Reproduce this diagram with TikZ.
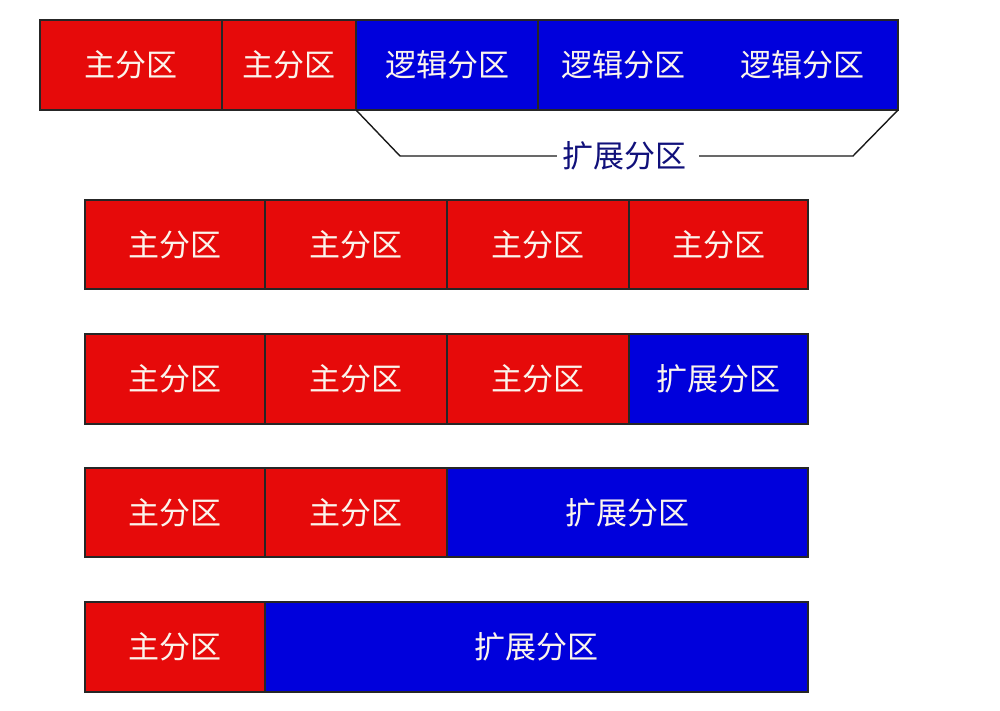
\documentclass[tikz,border=0pt]{standalone}
\usepackage{fontspec}
\newfontfamily\cjk{Noto Sans CJK SC}
\definecolor{pred}{HTML}{E60A0A}
\definecolor{pblue}{HTML}{0000DC}
\definecolor{ptext}{HTML}{FBF4EC}
\definecolor{pnavy}{HTML}{10107A}
\begin{document}
\begin{tikzpicture}[x=1pt,y=-1pt,
  part/.style={draw=black!85, line width=1.2pt, inner sep=0pt, outer sep=0pt,
    anchor=north west, text=ptext, font=\cjk\fontsize{31}{33}\selectfont},
  prim/.style={part, fill=pred},
  ext/.style={part, fill=pblue},
  lab/.style={inner sep=0pt, text=ptext, font=\cjk\fontsize{31}{33}\selectfont},
  brace/.style={draw=black!90, line width=1.4pt}
]
\useasboundingbox (0,0) rectangle (1000,710);
% top row
\node[prim, minimum width=182pt, minimum height=90pt] (t1) at (40,20) {主分区};
\node[prim, minimum width=134pt, minimum height=90pt] (t2) at (222,20) {主分区};
\node[ext, minimum width=182pt, minimum height=90pt] (t3) at (356,20) {逻辑分区};
\node[ext, minimum width=360pt, minimum height=90pt] (t4) at (538,20) {};
\node[lab] (t5) at (623,65) {逻辑分区};
\node[lab] (t6) at (802,65) {逻辑分区};
% bracket
\node[inner xsep=5pt, inner ysep=0pt, text=pnavy, font=\cjk\fontsize{31}{33}\selectfont] (ebr) at (624,156) {扩展分区};
\coordinate (b1) at (400,156);
\coordinate (b2) at (853,156);
\draw[brace] (t3.south west) -- (b1) -- (ebr.west);
\draw[brace] ([xshift=8pt]ebr.east) -- (b2) -- (t4.south east);
% row 2
\node[prim, minimum width=180pt, minimum height=89pt] (r2a) at (85,200) {主分区};
\node[prim, minimum width=182pt, minimum height=89pt] (r2b) at (265,200) {主分区};
\node[prim, minimum width=182pt, minimum height=89pt] (r2c) at (447,200) {主分区};
\node[prim, minimum width=179pt, minimum height=89pt] (r2d) at (629,200) {主分区};
% row 3
\node[prim, minimum width=180pt, minimum height=90pt] (r3a) at (85,334) {主分区};
\node[prim, minimum width=182pt, minimum height=90pt] (r3b) at (265,334) {主分区};
\node[prim, minimum width=182pt, minimum height=90pt] (r3c) at (447,334) {主分区};
\node[ext, minimum width=179pt, minimum height=90pt] (r3d) at (629,334) {扩展分区};
% row 4
\node[prim, minimum width=180pt, minimum height=89pt] (r4a) at (85,468) {主分区};
\node[prim, minimum width=182pt, minimum height=89pt] (r4b) at (265,468) {主分区};
\node[ext, minimum width=361pt, minimum height=89pt] (r4c) at (447,468) {扩展分区};
% row 5
\node[prim, minimum width=180pt, minimum height=90pt] (r5a) at (85,602) {主分区};
\node[ext, minimum width=543pt, minimum height=90pt] (r5b) at (265,602) {扩展分区};
\end{tikzpicture}
\end{document}
